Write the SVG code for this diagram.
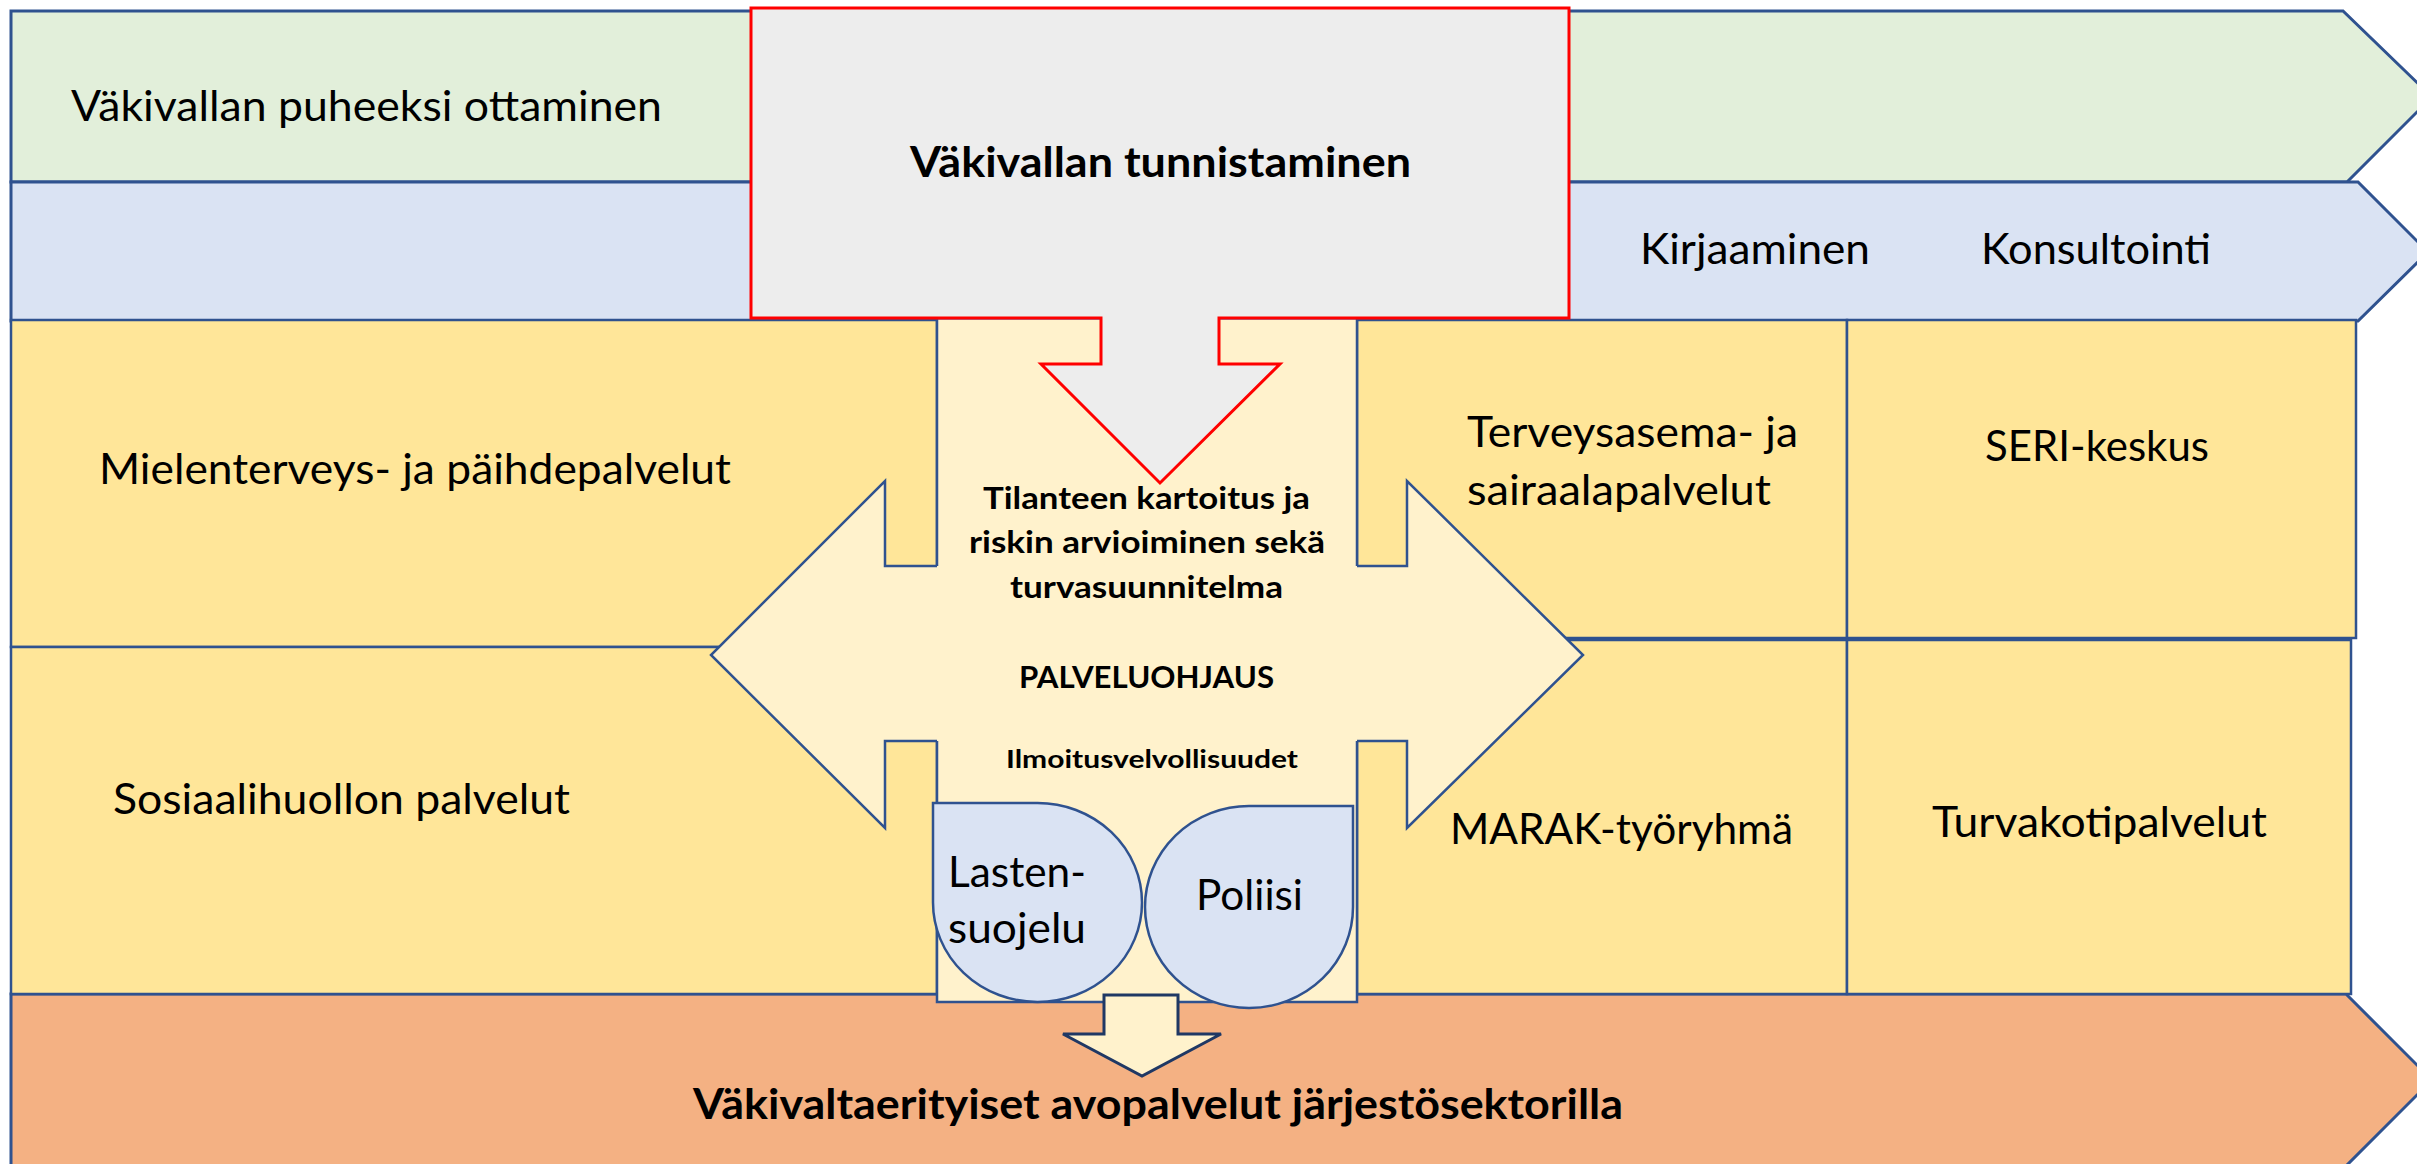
<svg xmlns="http://www.w3.org/2000/svg" width="2417" height="1164" viewBox="0 0 2417 1164">
<defs>
<style>
.band{stroke:#2F528F;stroke-width:3;stroke-linejoin:miter}
.cell{fill:#FFE699;stroke:#2F528F;stroke-width:2.5}
.edge{fill:none;stroke:#2F528F;stroke-width:2.5;stroke-linejoin:miter}
.t{font-family:Lato,"Liberation Sans",sans-serif;font-size:42px;fill:#000}
.b{font-family:Lato,"Liberation Sans",sans-serif;font-weight:bold;fill:#000}
.drop{fill:#DAE3F3;stroke:#2F528F;stroke-width:2.5}
</style>
</defs>
<rect width="2417" height="1164" fill="#FFFFFF"/>

<g id="band-puheeksi">
<path class="band" fill="#E2EFDA" d="M11,11 H2343 L2432,97 L2347,182 H11 Z"/>
<text class="t" x="71" y="121" textLength="591" lengthAdjust="spacingAndGlyphs">Väkivallan puheeksi ottaminen</text>
</g>

<g id="band-kirjaaminen">
<path class="band" fill="#DAE3F3" d="M11,182 H2358 L2428,252 L2358,321 H11 Z"/>
<text class="t" x="1640" y="264" textLength="230" lengthAdjust="spacingAndGlyphs">Kirjaaminen</text>
<text class="t" x="1981" y="264" textLength="230" lengthAdjust="spacingAndGlyphs">Konsultointi</text>
</g>

<g id="band-jarjestot">
<path class="band" fill="#F4B183" d="M11,994 H2346 L2432,1080 L2346,1166 H11 Z"/>
<text class="b" font-size="42" x="693" y="1119" textLength="930" lengthAdjust="spacingAndGlyphs">Väkivaltaerityiset avopalvelut järjestösektorilla</text>
</g>

<g id="cell-mielenterveys">
<rect class="cell" x="11" y="320" width="926" height="327"/>
<text class="t" x="99" y="484" textLength="632" lengthAdjust="spacingAndGlyphs">Mielenterveys- ja päihdepalvelut</text>
</g>

<g id="cell-sosiaalihuolto">
<rect class="cell" x="11" y="647" width="926" height="347"/>
<text class="t" x="113" y="814" textLength="457" lengthAdjust="spacingAndGlyphs">Sosiaalihuollon palvelut</text>
</g>

<g id="cell-terveysasema">
<rect class="cell" x="1357" y="320" width="490" height="318"/>
<text class="t" x="1467" y="447" textLength="331" lengthAdjust="spacingAndGlyphs">Terveysasema- ja</text>
<text class="t" x="1467" y="505" textLength="304" lengthAdjust="spacingAndGlyphs">sairaalapalvelut</text>
</g>

<g id="cell-seri">
<rect class="cell" x="1847" y="320" width="509" height="318"/>
<text class="t" x="1985" y="461" textLength="224" lengthAdjust="spacingAndGlyphs">SERI-keskus</text>
</g>

<g id="cell-marak">
<rect class="cell" x="1357" y="640" width="490" height="354"/>
<text class="t" x="1450" y="844" textLength="343" lengthAdjust="spacingAndGlyphs">MARAK-työryhmä</text>
</g>

<g id="cell-turvakoti">
<rect class="cell" x="1847" y="640" width="504" height="354"/>
<text class="t" x="1932" y="837" textLength="335" lengthAdjust="spacingAndGlyphs">Turvakotipalvelut</text>
</g>

<g id="palveluohjaus">
<rect x="937" y="320" width="420" height="682" fill="#FFF2CC"/>
<path class="edge" d="M937,320 V566 M1357,320 V566 M937,741 V1002 H1357 V741"/>
<path fill="#FFF2CC" d="M711,655 L885,481 L885,566 L1407,566 L1407,481 L1583,655 L1407,828 L1407,741 L885,741 L885,828 Z"/>
<path class="edge" d="M937,566 H885 V481 L711,655 L885,828 V741 H937"/>
<path class="edge" d="M1357,566 H1407 V481 L1583,655 L1407,828 V741 H1357"/>
<text class="b" font-size="31" x="983" y="509" textLength="327" lengthAdjust="spacingAndGlyphs">Tilanteen kartoitus ja</text>
<text class="b" font-size="31" x="969" y="553" textLength="356" lengthAdjust="spacingAndGlyphs">riskin arvioiminen sekä</text>
<text class="b" font-size="31" x="1010" y="598" textLength="273" lengthAdjust="spacingAndGlyphs">turvasuunnitelma</text>
<text class="b" font-size="30" x="1019" y="688" textLength="255" lengthAdjust="spacingAndGlyphs">PALVELUOHJAUS</text>
<text class="b" font-size="25" x="1006" y="768" textLength="292" lengthAdjust="spacingAndGlyphs">Ilmoitusvelvollisuudet</text>
</g>

<g id="tunnistaminen">
<path fill="#EDEDED" stroke="#FF0000" stroke-width="3" d="M751,8 H1569 V318 H1219 V364 H1280 L1160,483 L1041,364 H1101 V318 H751 Z"/>
<text class="b" font-size="42" x="910" y="177" textLength="501" lengthAdjust="spacingAndGlyphs">Väkivallan tunnistaminen</text>
</g>

<g id="lastensuojelu">
<path class="drop" d="M933,803 H1037.5 A104.5,99.5 0 0 1 1142,902.5 A104.5,99.5 0 0 1 1037.5,1002 A104.5,99.5 0 0 1 933,902.5 Z"/>
<text class="t" x="948" y="887" textLength="138" lengthAdjust="spacingAndGlyphs">Lasten-</text>
<text class="t" x="948" y="943" textLength="138" lengthAdjust="spacingAndGlyphs">suojelu</text>
</g>

<g id="poliisi">
<path class="drop" d="M1353,806 V907 A104,101 0 0 1 1249,1008 A104,101 0 0 1 1145,907 A104,101 0 0 1 1249,806 Z"/>
<text class="t" x="1196" y="910" textLength="107" lengthAdjust="spacingAndGlyphs">Poliisi</text>
</g>

<g id="connectors">
<path fill="#FFF2CC" stroke="#1F3864" stroke-width="3" d="M1104,995 H1178 V1034 H1221 L1142,1076 L1063,1034 H1104 Z"/>
</g>
</svg>
